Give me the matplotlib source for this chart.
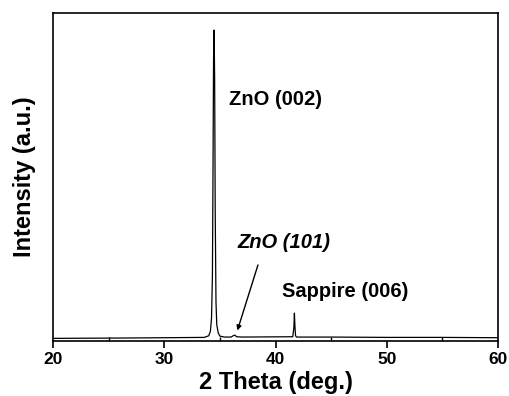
import matplotlib
matplotlib.use("Agg")
import matplotlib.pyplot as plt
from matplotlib.ticker import MultipleLocator

plt.rcParams['font.family'] = ['Liberation Sans', 'DejaVu Sans']

# XRD scan (2 theta in degrees, normalised intensity)
two_theta = [20.0, 26.0, 30.0, 33.6, 34.0, 34.15, 34.25, 34.33, 34.38, 34.43, 34.48,
             34.53, 34.58, 34.65, 34.72, 34.85, 35.0, 35.4, 36.0, 36.2, 36.35, 36.5,
             37.0, 41.55, 41.65, 41.7, 41.74, 41.8, 41.9, 45.0, 50.0, 55.0, 60.0]
intensity = [0.008, 0.009, 0.010, 0.011, 0.016, 0.03, 0.07, 0.20, 0.50, 0.85, 0.948,
             0.80, 0.40, 0.12, 0.05, 0.025, 0.015, 0.012, 0.012, 0.016, 0.018, 0.013,
             0.012, 0.013, 0.04, 0.085, 0.05, 0.016, 0.012, 0.012, 0.011, 0.011, 0.010]

fig = plt.figure(figsize=(5.1, 3.96), dpi=100)
ax = fig.add_axes([53 / 510, 1 - 341 / 396, 445 / 510, 328 / 396])

ax.plot(two_theta, intensity, color="black", lw=0.9)
ax.set_xlim(20, 60)
ax.set_ylim(0, 1)

ax.xaxis.set_major_locator(MultipleLocator(10))
ax.xaxis.set_minor_locator(MultipleLocator(5))
ax.tick_params(axis="x", which="major", direction="out", length=5, width=1.2,
               labelsize=12.5, pad=3)
ax.tick_params(axis="x", which="minor", direction="in", length=3, width=1)
ax.set_yticks([])
for lbl in ax.get_xticklabels():
    lbl.set_fontweight("bold")
for s in ax.spines.values():
    s.set_linewidth(1.2)

ax.set_xlabel("2 Theta (deg.)", fontsize=17, fontweight="bold", labelpad=3)
ax.set_ylabel("Intensity (a.u.)", fontsize=17, fontweight="bold", labelpad=12)

ax.text(35.8, 0.735, "ZnO (002)", fontsize=14.5, fontweight="bold", va="center")
ax.text(36.6, 0.30, "ZnO (101)", fontsize=14.5, fontweight="bold", style="italic",
        va="center")
ax.text(40.55, 0.15, "Sappire (006)", fontsize=14.5, fontweight="bold", va="center")
ax.annotate("", xy=(36.5, 0.024), xytext=(38.5, 0.24),
            arrowprops=dict(arrowstyle="-|>", color="black", lw=1.0,
                            mutation_scale=7))

fig.savefig("out.png", dpi=100)
